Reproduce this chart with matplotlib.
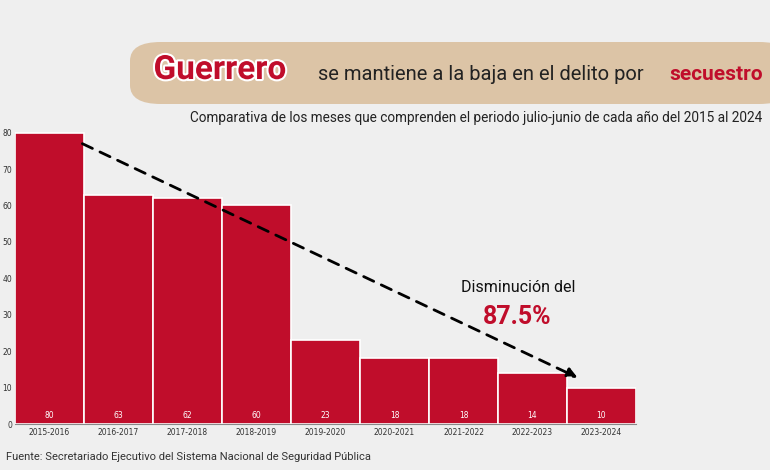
import matplotlib
matplotlib.use("Agg")
import matplotlib.pyplot as plt
from matplotlib.patches import FancyBboxPatch
import matplotlib.patheffects as pe

periods = ["2015-2016","2016-2017","2017-2018","2018-2019","2019-2020",
           "2020-2021","2021-2022","2022-2023","2023-2024"]
values = [80, 63, 62, 60, 23, 18, 18, 14, 10]

W, H = 770, 470
fig = plt.figure(figsize=(W/100, H/100), dpi=100)
fig.patch.set_facecolor("#efefef")

ax = fig.add_axes([15/W, 1-424/H, 621/W, 295/H])
ax.set_facecolor("none")
x = range(len(values))
ax.bar(x, values, width=1.0, color="#c00d2b", edgecolor="white", linewidth=1.2)
for i, v in zip(x, values):
    ax.text(i, 1.2, str(v), color="white", ha="center", va="bottom", fontsize=5.5)
ax.set_xlim(-0.5, 8.5)
ax.set_ylim(0, 81)
ax.set_yticks(range(0, 81, 10))
ax.set_xticks(list(x))
ax.set_xticklabels(periods, fontsize=5.5, color="#333333")
ax.tick_params(axis="y", labelsize=5.5, colors="#333333", length=0, pad=2)
ax.tick_params(axis="x", length=0, pad=3)
for s in ["top", "right", "left"]:
    ax.spines[s].set_visible(False)
ax.spines["bottom"].set_color("#888888")
ax.annotate("", xy=(7.69, 12.4), xytext=(0.44, 77.3),
            arrowprops=dict(arrowstyle="-|>", linestyle=(0, (4, 3)), lw=2,
                            color="black", mutation_scale=15))

banner = FancyBboxPatch((130/W, 1-104/H), 660/W, 62/H,
                        boxstyle="round,pad=0,rounding_size=0.04",
                        transform=fig.transFigure, facecolor="#dcc4a6",
                        edgecolor="none")
fig.add_artist(banner)
fig.text(220/W, 1-70/H, "Guerrero", color="#c00d2b", fontsize=24,
         fontweight="bold", ha="center", va="center", family="Roboto",
         path_effects=[pe.withStroke(linewidth=3, foreground="white")])
fig.text(318/W, 1-74/H, "se mantiene a la baja en el delito por",
         color="#222222", fontsize=14.5, ha="left", va="center", family="Roboto")
fig.text(763/W, 1-74/H, "secuestro", color="#c00d2b", fontsize=15,
         fontweight="bold", ha="right", va="center", family="Roboto")
fig.text(762/W, 1-118/H,
         "Comparativa de los meses que comprenden el periodo julio-junio de cada año del 2015 al 2024",
         color="#222222", fontsize=9.8, ha="right", va="center", family="Roboto")
fig.text(518/W, 1-287/H, "Disminución del", color="#111111", fontsize=11.5,
         ha="center", va="center", family="Roboto")
fig.text(517/W, 1-317/H, "87.5%", color="#c00d2b", fontsize=18,
         fontweight="bold", ha="center", va="center", family="Roboto")
fig.text(6/W, 1-457/H,
         "Fuente: Secretariado Ejecutivo del Sistema Nacional de Seguridad Pública",
         color="#333333", fontsize=8, ha="left", va="center", family="Roboto")

fig.savefig("out.png", dpi=100, facecolor=fig.get_facecolor())
